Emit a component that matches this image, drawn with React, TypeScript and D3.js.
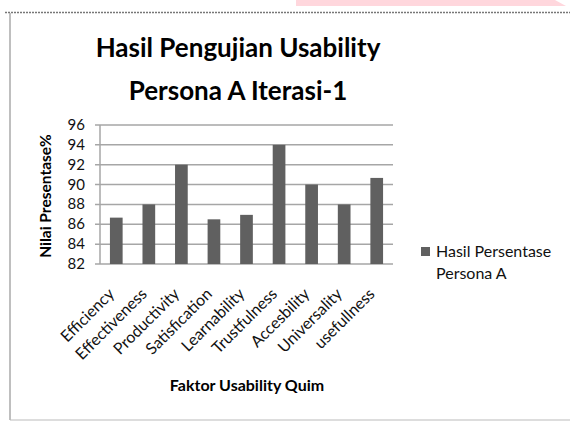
import React, { useEffect, useRef } from 'react';
import * as d3 from 'd3';

// nilai
const categories = [
  'Efficiency',
  'Effectiveness',
  'Productivity',
  'Satisfication',
  'Learnability',
  'Trustfulness',
  'Accesbility',
  'Universality',
  'usefullness',
];
const values = [86.67, 88, 92, 86.5, 86.95, 94, 90, 88, 90.67];
const yTicks = [82, 84, 86, 88, 90, 92, 94, 96];
const seriesName = ['Hasil Persentase', 'Persona A'];

const W = 570;
const H = 421;
const FONT = 'Lato, "Open Sans", sans-serif';

function App() {
  const svgRef = useRef<SVGSVGElement>(null);

  useEffect(() => {
    const svg = d3.select(svgRef.current);
    svg.selectAll('*').remove();

    // bingkai
    svg.append('path')
      .attr('d', 'M296,0 L555,0 L566,6 L296,6 Z')
      .attr('fill', '#ffd7dd');
    svg.append('line')
      .attr('x1', 5).attr('x2', W).attr('y1', 12.5).attr('y2', 12.5)
      .attr('stroke', '#777').attr('stroke-width', 1.5).attr('stroke-dasharray', '2,1');
    svg.append('line')
      .attr('x1', 10).attr('x2', 10).attr('y1', 13).attr('y2', 420)
      .attr('stroke', '#aaa').attr('stroke-width', 1.5);
    svg.append('line')
      .attr('x1', 10).attr('x2', W).attr('y1', 420).attr('y2', 420)
      .attr('stroke', '#bbb').attr('stroke-width', 1);

    const x = d3.scaleBand().domain(categories).range([100, 393]).paddingInner(0.61).paddingOuter(0.305);
    const y = d3.scaleLinear().domain([82, 96]).range([264, 125]);

    // garis grid
    svg.append('g')
      .selectAll('line')
      .data(yTicks)
      .join('line')
      .attr('x1', 95).attr('x2', 393)
      .attr('y1', (d) => y(d)).attr('y2', (d) => y(d))
      .attr('stroke', '#a6a6a6').attr('stroke-width', 1.5);

    svg.append('line')
      .attr('x1', 100).attr('x2', 100).attr('y1', 125).attr('y2', 264)
      .attr('stroke', '#a6a6a6').attr('stroke-width', 1.5);

    svg.append('g')
      .selectAll('text')
      .data(yTicks)
      .join('text')
      .attr('x', 85).attr('y', (d) => y(d) + 5)
      .attr('text-anchor', 'end')
      .attr('font-family', FONT).attr('font-size', 15)
      .attr('fill', '#111')
      .text((d) => d);

    // batang
    svg.append('g')
      .selectAll('rect')
      .data(values)
      .join('rect')
      .attr('x', (d, i) => x(categories[i])!)
      .attr('width', x.bandwidth())
      .attr('y', (d) => y(d))
      .attr('height', (d) => y(82) - y(d))
      .attr('fill', '#606060');

    // label kategori
    svg.append('g')
      .selectAll('text')
      .data(categories)
      .join('text')
      .attr('transform', (d) => `translate(${x(d)! + x.bandwidth() / 2 - 1},${295}) rotate(-45)`)
      .attr('text-anchor', 'end')
      .attr('font-family', FONT).attr('font-size', 16)
      .attr('fill', '#111')
      .text((d) => d);

    // judul
    const title = svg.append('text')
      .attr('text-anchor', 'middle')
      .attr('font-family', FONT).attr('font-size', 26).attr('font-weight', 'bold')
      .attr('fill', '#000');
    title.append('tspan').attr('x', 238).attr('y', 57).text('Hasil Pengujian Usability');
    title.append('tspan').attr('x', 238).attr('y', 100).text('Persona A Iterasi-1');

    svg.append('text')
      .attr('transform', 'translate(51,196) rotate(-90)')
      .attr('text-anchor', 'middle')
      .attr('font-family', FONT).attr('font-size', 15.5).attr('font-weight', 'bold')
      .text('Nilai Presentase%');

    svg.append('text')
      .attr('x', 247).attr('y', 391)
      .attr('text-anchor', 'middle')
      .attr('font-family', FONT).attr('font-size', 16).attr('font-weight', 'bold')
      .text('Faktor Usability Quim');

    // legenda
    svg.append('rect')
      .attr('x', 421).attr('y', 247).attr('width', 9).attr('height', 9)
      .attr('fill', '#606060');
    svg.append('g')
      .selectAll('text')
      .data(seriesName)
      .join('text')
      .attr('x', 436).attr('y', (d, i) => 257 + i * 22)
      .attr('font-family', FONT).attr('font-size', 16)
      .attr('fill', '#111')
      .text((d) => d);
  }, []);

  return (
    <svg
      ref={svgRef}
      width={W}
      height={H}
      style={{ position: 'absolute', left: 0, top: 0, background: '#fff' }}
    />
  );
}

export default App;
